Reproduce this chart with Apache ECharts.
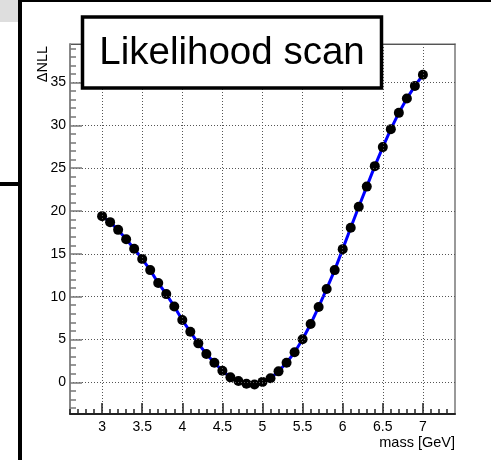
<!DOCTYPE html>
<html>
<head>
<meta charset="utf-8">
<script src="https://cdn.jsdelivr.net/npm/echarts@6/dist/echarts.min.js"></script>
<style>html,body{margin:0;padding:0;background:#fff}#c{width:491px;height:460px}</style>
</head>
<body>
<div id="c"></div>
<script>
var massValues = [3.0,3.1,3.2,3.3,3.4,3.5,3.6,3.7,3.8,3.9,4.0,4.1,4.2,4.3,4.4,4.5,4.6,4.7,4.8,4.9,5.0,5.1,5.2,5.3,5.4,5.5,5.6,5.7,5.8,5.9,6.0,6.1,6.2,6.3,6.4,6.5,6.6,6.7,6.8,6.9,7.0];
var nllValues = [19.4,18.7,17.8,16.7,15.6,14.4,13.1,11.6,10.3,8.85,7.27,5.9,4.55,3.3,2.29,1.35,0.58,0.15,-0.16,-0.25,0.05,0.48,1.28,2.29,3.5,5.02,6.8,8.8,10.9,13.1,15.55,18.04,20.5,22.85,25.24,27.46,29.56,31.46,33.14,34.61,35.9];
var xMajorTicks = [3,3.5,4,4.5,5,5.5,6,6.5,7];
var xMinorTicks = [2.6,2.7,2.8,2.9,3.0,3.1,3.2,3.3,3.4,3.5,3.6,3.7,3.8,3.9,4.0,4.1,4.2,4.3,4.4,4.5,4.6,4.7,4.8,4.9,5.0,5.1,5.2,5.3,5.4,5.5,5.6,5.7,5.8,5.9,6.0,6.1,6.2,6.3,6.4,6.5,6.6,6.7,6.8,6.9,7.0,7.1,7.2,7.3];
var yMajorTicks = [0,5,10,15,20,25,30,35];
var yMinorTicks = [-3,-2,-1,0,1,2,3,4,5,6,7,8,9,10,11,12,13,14,15,16,17,18,19,20,21,22,23,24,25,26,27,28,29,30,31,32,33,34,35,36,37,38,39];
var xRange = [2.6, 7.4];
var yRange = [-3.7, 39.5];
var titleText = 'Likelihood scan';
var xTitle = 'mass [GeV]';
var yTitle = '\u0394NLL';

var FONT = '"Liberation Sans", Arial, Helvetica, sans-serif';
var chart = echarts.init(document.getElementById('c'), null, {renderer: 'canvas'});
var gridLine = {show: true, lineStyle: {color: '#555', width: 1, type: [1, 2]}};
var pts = massValues.map(function (m, i) { return [m, nllValues[i]]; });

chart.setOption({
  animation: false,
  backgroundColor: '#fff',
  grid: {left: 70, top: 44, right: 36, bottom: 46, show: true, borderColor: '#666', borderWidth: 1, backgroundColor: 'transparent'},
  xAxis: [
    {type: 'value', min: xRange[0], max: xRange[1], position: 'bottom',
     axisLine: {show: true, onZero: false, lineStyle: {color: '#222', width: 2}},
     axisTick: {show: true, inside: true, length: 11, customValues: xMajorTicks, lineStyle: {color: '#222', width: 1.5}},
     axisLabel: {show: true, customValues: xMajorTicks, color: '#000', fontSize: 14, fontFamily: FONT, margin: 6},
     splitLine: gridLine, z: 20},
    {type: 'value', min: xRange[0], max: xRange[1], position: 'bottom',
     axisLine: {show: false, onZero: false},
     axisTick: {show: true, inside: true, length: 5, customValues: xMinorTicks, lineStyle: {color: '#222', width: 1.5}},
     axisLabel: {show: false}, splitLine: {show: false}, z: 20},
    {type: 'value', min: xRange[0], max: xRange[1], position: 'top',
     axisLine: {show: true, onZero: false, lineStyle: {color: '#555', width: 1}},
     axisTick: {show: false}, axisLabel: {show: false}, splitLine: {show: false}}
  ],
  yAxis: [
    {type: 'value', min: yRange[0], max: yRange[1], position: 'left',
     axisLine: {show: true, onZero: false, lineStyle: {color: '#888', width: 2}},
     axisTick: {show: true, inside: true, length: 12, customValues: yMajorTicks, lineStyle: {color: '#777', width: 1.5}},
     axisLabel: {show: true, customValues: yMajorTicks, color: '#000', fontSize: 14, fontFamily: FONT, margin: 4},
     splitLine: gridLine, z: 20},
    {type: 'value', min: yRange[0], max: yRange[1], position: 'left',
     axisLine: {show: false, onZero: false},
     axisTick: {show: true, inside: true, length: 6, customValues: yMinorTicks, lineStyle: {color: '#777', width: 1.5}},
     axisLabel: {show: false}, splitLine: {show: false}, z: 20},
    {type: 'value', min: yRange[0], max: yRange[1], position: 'right',
     axisLine: {show: true, onZero: false, lineStyle: {color: '#999', width: 2}},
     axisTick: {show: false}, axisLabel: {show: false}, splitLine: {show: false}}
  ],
  series: [{
    type: 'line', xAxisIndex: 0, yAxisIndex: 0, data: pts,
    symbol: 'circle', symbolSize: 10, showSymbol: true,
    itemStyle: {color: '#000'},
    lineStyle: {color: '#0000ff', width: 3},
    z: 5
  }],
  graphic: [
    {type: 'rect', shape: {x: 0, y: 0, width: 18, height: 22}, style: {fill: '#dedede'}, z: 1},
    {type: 'rect', shape: {x: 18, y: 0, width: 4, height: 460}, style: {fill: '#000'}, z: 1},
    {type: 'rect', shape: {x: 20, y: 0, width: 471, height: 2}, style: {fill: '#000'}, z: 1},
    {type: 'rect', shape: {x: 0, y: 182, width: 20, height: 4}, style: {fill: '#000'}, z: 1},
    {type: 'rect', shape: {x: 82.5, y: 17, width: 299, height: 71}, style: {fill: '#fff', stroke: '#000', lineWidth: 3.5}, z: 100},
    {type: 'text', x: 232, y: 53, style: {text: titleText, font: '38.5px ' + FONT, fill: '#000', align: 'center', verticalAlign: 'middle'}, z: 101},
    {type: 'text', x: 455, y: 443, style: {text: xTitle, font: '14.5px ' + FONT, fill: '#000', align: 'right', verticalAlign: 'middle'}, z: 50},
    {type: 'text', x: 43, y: 64, rotation: Math.PI / 2, style: {text: yTitle, font: '14.5px ' + FONT, fill: '#000', align: 'center', verticalAlign: 'middle'}, z: 50}
  ]
});
</script>
</body>
</html>
